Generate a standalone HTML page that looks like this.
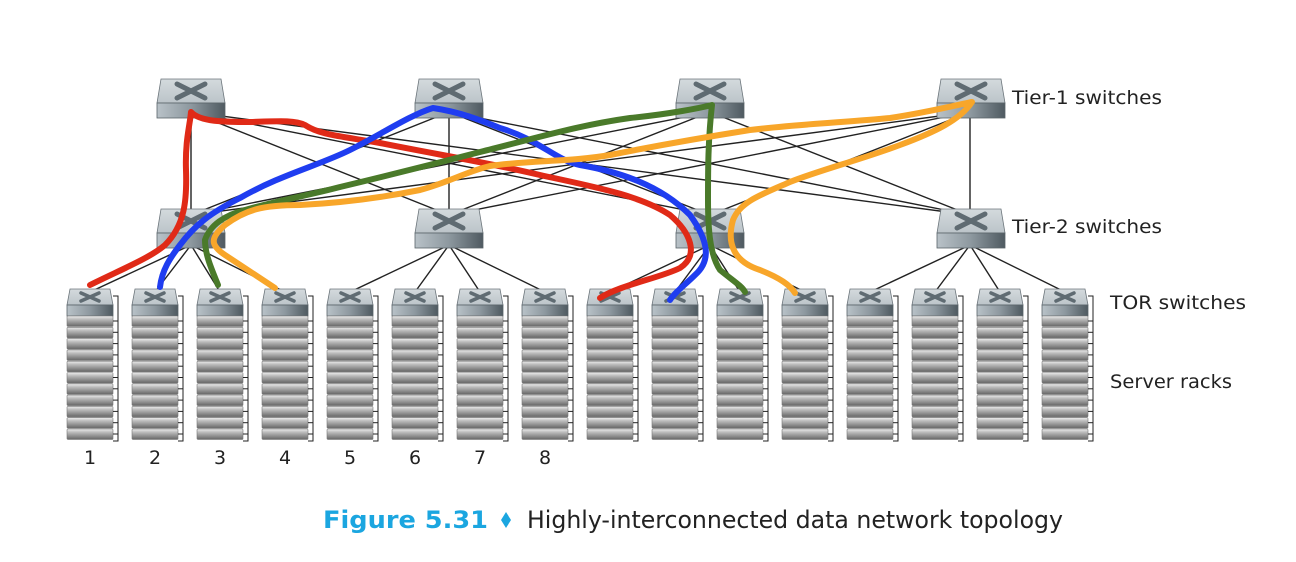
<!DOCTYPE html>
<html><head><meta charset="utf-8"><style>
html,body{margin:0;padding:0;background:#fff;}
svg{display:block;}
</style></head><body>
<svg width="1296" height="562" viewBox="0 0 1296 562" xmlns="http://www.w3.org/2000/svg">
<defs>
<linearGradient id="fr" x1="0" x2="1" y1="0" y2="0">
<stop offset="0" stop-color="#b9c2c8"/><stop offset="0.5" stop-color="#8d989f"/><stop offset="1" stop-color="#4f5a61"/>
</linearGradient>
<linearGradient id="tp" x1="0" x2="0" y1="0" y2="1">
<stop offset="0" stop-color="#d4dadd"/><stop offset="1" stop-color="#bcc4c9"/>
</linearGradient>
<linearGradient id="sv" x1="0" x2="0" y1="0" y2="1">
<stop offset="0" stop-color="#eeeeee"/><stop offset="0.3" stop-color="#bdbdbd"/><stop offset="1" stop-color="#666"/>
</linearGradient>
<g id="big">
<path d="M4 0 H64 L68 24 H0 Z" fill="url(#tp)" stroke="#6d767c" stroke-width="0.8"/>
<rect x="0" y="24" width="68" height="15" fill="url(#fr)" stroke="#5a646a" stroke-width="0.8"/>
<path d="M20 5 L48 19 M48 5 L20 19" stroke="#5f6b72" stroke-width="5" stroke-linecap="round"/>
</g>
<g id="tor">
<path d="M3 0 H43 L46 16 H0 Z" fill="url(#tp)" stroke="#6d767c" stroke-width="0.8"/>
<rect x="0" y="16" width="46" height="11" fill="url(#fr)" stroke="#5a646a" stroke-width="0.8"/>
<path d="M14 4 L32 12 M32 4 L14 12" stroke="#5f6b72" stroke-width="3.5" stroke-linecap="round"/>
<path d="M46 7 H51 V152 H46" fill="none" stroke="#222" stroke-width="1"/>
<g id="srv"><rect x="0" y="27" width="46" height="10.5" rx="1" fill="url(#sv)" stroke="#777" stroke-width="0.6"/><path d="M46 32 H51" stroke="#222" stroke-width="1"/></g>
<use href="#srv" y="11.3"/><use href="#srv" y="22.6"/><use href="#srv" y="33.9"/><use href="#srv" y="45.2"/><use href="#srv" y="56.5"/><use href="#srv" y="67.8"/><use href="#srv" y="79.1"/><use href="#srv" y="90.4"/><use href="#srv" y="101.7"/><use href="#srv" y="113"/>
</g>
</defs>

<g stroke="#222" stroke-width="1.4">
<line x1="191" y1="112" x2="191" y2="215"/><line x1="191" y1="112" x2="449" y2="215"/><line x1="191" y1="112" x2="710" y2="215"/><line x1="191" y1="112" x2="970" y2="215"/>
<line x1="449" y1="112" x2="191" y2="215"/><line x1="449" y1="112" x2="449" y2="215"/><line x1="449" y1="112" x2="710" y2="215"/><line x1="449" y1="112" x2="970" y2="215"/>
<line x1="710" y1="112" x2="191" y2="215"/><line x1="710" y1="112" x2="449" y2="215"/><line x1="710" y1="112" x2="710" y2="215"/><line x1="710" y1="112" x2="970" y2="215"/>
<line x1="970" y1="112" x2="191" y2="215"/><line x1="970" y1="112" x2="449" y2="215"/><line x1="970" y1="112" x2="710" y2="215"/><line x1="970" y1="112" x2="970" y2="215"/>
<line x1="191" y1="245" x2="90" y2="292"/><line x1="191" y1="245" x2="155" y2="292"/><line x1="191" y1="245" x2="220" y2="292"/><line x1="191" y1="245" x2="285" y2="292"/>
<line x1="449" y1="245" x2="350" y2="292"/><line x1="449" y1="245" x2="415" y2="292"/><line x1="449" y1="245" x2="480" y2="292"/><line x1="449" y1="245" x2="545" y2="292"/>
<line x1="710" y1="245" x2="610" y2="292"/><line x1="710" y1="245" x2="675" y2="292"/><line x1="710" y1="245" x2="740" y2="292"/><line x1="710" y1="245" x2="805" y2="292"/>
<line x1="970" y1="245" x2="870" y2="292"/><line x1="970" y1="245" x2="935" y2="292"/><line x1="970" y1="245" x2="1000" y2="292"/><line x1="970" y1="245" x2="1065" y2="292"/>
</g>

<use href="#big" x="157" y="79"/><use href="#big" x="415" y="79"/><use href="#big" x="676" y="79"/><use href="#big" x="937" y="79"/>
<use href="#big" x="157" y="209"/><use href="#big" x="415" y="209"/><use href="#big" x="676" y="209"/><use href="#big" x="937" y="209"/>

<g>
<use href="#tor" x="67" y="289"/><use href="#tor" x="132" y="289"/><use href="#tor" x="197" y="289"/><use href="#tor" x="262" y="289"/>
<use href="#tor" x="327" y="289"/><use href="#tor" x="392" y="289"/><use href="#tor" x="457" y="289"/><use href="#tor" x="522" y="289"/>
<use href="#tor" x="587" y="289"/><use href="#tor" x="652" y="289"/><use href="#tor" x="717" y="289"/><use href="#tor" x="782" y="289"/>
<use href="#tor" x="847" y="289"/><use href="#tor" x="912" y="289"/><use href="#tor" x="977" y="289"/><use href="#tor" x="1042" y="289"/>
</g>

<g fill="none" stroke-width="6" stroke-linecap="round" stroke-linejoin="round">
<path stroke="#e02a17" d="M90 285 C120 270 150 258 165 245 C185 225 187 200 186 170 C185 140 190 125 191 112 C200 122 225 122 250 122 C280 121 295 120 305 125 C320 135 340 136 380 143 C440 155 490 163 540 175 C590 186 640 195 670 215 C690 232 700 255 680 268 C660 278 620 285 600 298"/>
<path stroke="#1f3df0" d="M160 287 C162 270 170 258 180 245 C195 225 210 213 240 198 C280 175 320 165 350 150 C380 135 410 115 433 108 C460 112 480 120 500 128 C540 140 555 160 580 165 C620 172 660 185 690 215 C708 240 712 260 695 275 C685 285 675 292 670 300"/>
<path stroke="#4a7a2a" d="M218 285 C212 270 205 255 205 240 C210 225 225 215 245 210 C280 200 310 195 340 187 C390 175 430 165 480 152 C540 137 580 125 630 118 C670 114 700 108 712 105 C708 140 708 170 708 200 C708 230 710 255 720 270 C732 280 742 286 745 292"/>
<path stroke="#f8a62a" d="M275 288 C260 278 240 265 225 255 C210 245 210 238 225 225 C245 210 262 205 300 205 C340 203 380 198 420 190 C450 182 465 172 490 166 C530 160 570 162 610 155 C650 147 700 138 750 130 C800 124 850 122 890 118 C930 112 970 102 972 102 C960 120 935 132 900 145 C860 160 820 170 790 182 C760 195 740 202 733 220 C726 245 735 262 760 270 C780 278 790 285 795 293"/>
</g>

<g font-family="'DejaVu Sans','Liberation Sans',sans-serif" font-size="19" fill="#222">
<text x="1012" y="104" textLength="150" lengthAdjust="spacingAndGlyphs">Tier-1 switches</text>
<text x="1012" y="233" textLength="150" lengthAdjust="spacingAndGlyphs">Tier-2 switches</text>
<text x="1110" y="309" textLength="136" lengthAdjust="spacingAndGlyphs">TOR switches</text>
<text x="1110" y="388" textLength="122" lengthAdjust="spacingAndGlyphs">Server racks</text>
</g>
<g font-family="'DejaVu Sans','Liberation Sans',sans-serif" font-size="19" fill="#222" text-anchor="middle">
<text x="90" y="464">1</text><text x="155" y="464">2</text><text x="220" y="464">3</text><text x="285" y="464">4</text>
<text x="350" y="464">5</text><text x="415" y="464">6</text><text x="480" y="464">7</text><text x="545" y="464">8</text>
</g>
<text x="323" y="528" font-family="'DejaVu Sans','Liberation Sans',sans-serif" font-size="24" font-weight="bold" fill="#1ba6e0" textLength="165" lengthAdjust="spacingAndGlyphs">Figure 5.31</text>
<path d="M506 512 L511 520 L506 528 L501 520 Z" fill="#1ba6e0"/>
<text x="527" y="528" font-family="'DejaVu Sans','Liberation Sans',sans-serif" font-size="24" fill="#222" textLength="536" lengthAdjust="spacingAndGlyphs">Highly-interconnected data network topology</text>
</svg>
</body></html>
